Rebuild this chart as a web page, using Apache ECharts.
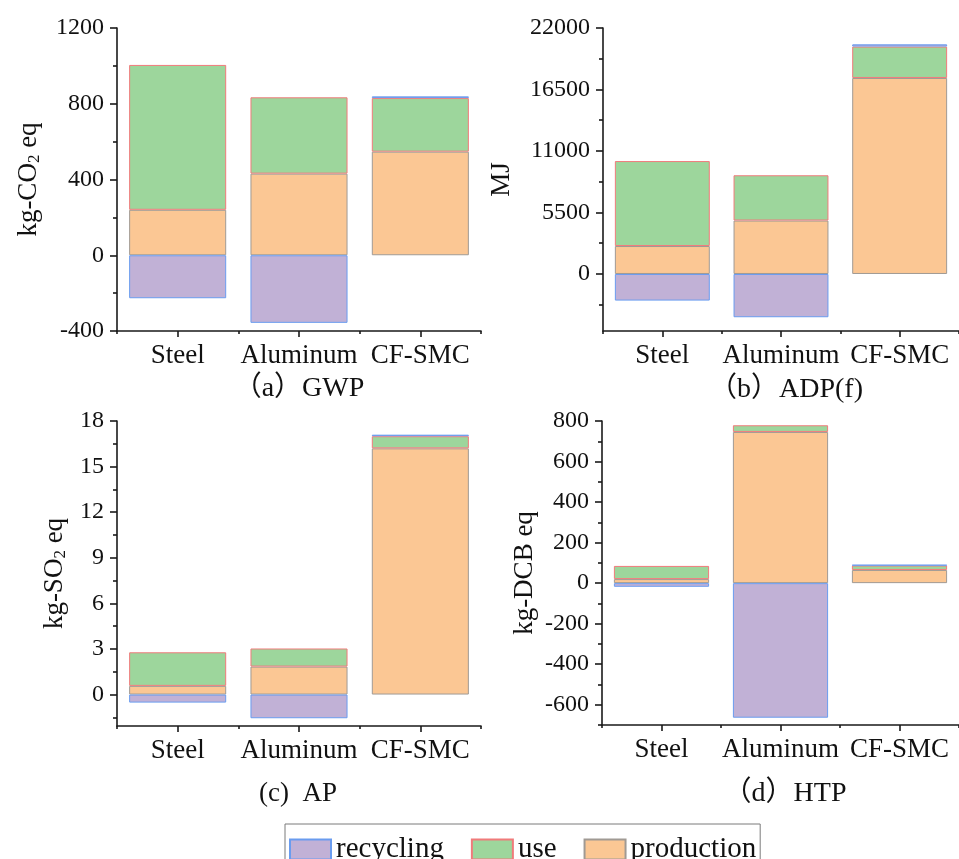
<!DOCTYPE html>
<html>
<head>
<meta charset="utf-8">
<script src="https://cdn.jsdelivr.net/npm/echarts@6/dist/echarts.min.js"></script>
<style>
html,body{margin:0;padding:0;background:#fff;}
#chart{width:959px;height:859px;}
</style>
</head>
<body>
<div id="chart"></div>
<script>
// ---- data ----
const categories = ['Steel', 'Aluminum', 'CF-SMC'];

const gwpProduction = [240, 431, 547];
const gwpUse = [765, 403, 283];
const gwpRecycling = [-227, -357, 9];

const adpProduction = [2500, 4780, 17530];
const adpUse = [7600, 4050, 2810];
const adpRecycling = [-2380, -3870, 200];

const apProduction = [0.57, 1.84, 16.2];
const apUse = [2.21, 1.19, 0.8];
const apRecycling = [-0.53, -1.56, 0.1];

const htpProduction = [20, 746, 65];
const htpUse = [65, 33, 22];
const htpRecycling = [-18, -664, 3];

const gwpTicks = [-400, 0, 400, 800, 1200];
const gwpMinor = [-200, 200, 600, 1000];
const adpTicks = [0, 5500, 11000, 16500, 22000];
const adpMinor = [-2750, 2750, 8250, 13750, 19250];
const apTicks = [0, 3, 6, 9, 12, 15, 18];
const apMinor = [-1.5, 1.5, 4.5, 7.5, 10.5, 13.5, 16.5];
const htpTicks = [-600, -400, -200, 0, 200, 400, 600, 800];
const htpMinor = [-700, -500, -300, -100, 100, 300, 500, 700];

const panelTitles = ['（a）GWP', '（b）ADP(f)', '(c)  AP', '（d）HTP'];
const seriesNames = ['recycling', 'use', 'production'];

// ---- styles ----
const FONT = "'Liberation Serif', 'Times New Roman', serif";
const TITLE_FONT = "'Liberation Serif', 'Noto Sans CJK SC', serif";
const styles = {
  production: { color: '#fbc794', borderColor: '#a09a94', borderWidth: 1 },
  use: { color: '#9dd69c', borderColor: '#f07b7b', borderWidth: 1 },
  recycling: { color: '#c1b1d6', borderColor: '#6a9cef', borderWidth: 1 }
};

const panels = [
  { grid: { left: 117, top: 28, width: 364, height: 303 }, min: -400, max: 1200, ticks: gwpTicks, minor: gwpMinor,
    name: 'kg-CO{sub|2} eq', nameGap: 74, data: [gwpProduction, gwpUse, gwpRecycling] },
  { grid: { left: 603, top: 28, width: 364, height: 303 }, min: -5100, max: 22000, ticks: adpTicks, minor: adpMinor,
    name: 'MJ', nameGap: 88, data: [adpProduction, adpUse, adpRecycling] },
  { grid: { left: 117, top: 421, width: 364, height: 305 }, min: -2.07, max: 18, ticks: apTicks, minor: apMinor,
    name: 'kg-SO{sub|2} eq', nameGap: 48, data: [apProduction, apUse, apRecycling] },
  { grid: { left: 602, top: 421, width: 364, height: 304 }, min: -700, max: 800, ticks: htpTicks, minor: htpMinor,
    name: 'kg-DCB eq', nameGap: 64, data: [htpProduction, htpUse, htpRecycling] }
];

const axisLineStyle = { color: '#1a1a1a', width: 1.6 };
const grids = [], xAxes = [], yAxes = [], series = [];

panels.forEach((p, i) => {
  grids.push(p.grid);
  xAxes.push({
    type: 'category', gridIndex: i, data: categories, position: 'bottom',
    axisLine: { show: true, lineStyle: axisLineStyle, onZero: false },
    axisTick: { show: true, alignWithLabel: true, inside: false, length: 6, lineStyle: axisLineStyle },
    axisLabel: { show: true, interval: 0, hideOverlap: false, fontFamily: FONT, fontSize: 27, color: '#111', margin: 11 },
    splitLine: { show: false }
  });
  xAxes.push({
    type: 'category', gridIndex: i, data: categories, position: 'bottom',
    axisLine: { show: false, onZero: false },
    axisTick: { show: true, alignWithLabel: false, interval: 0, length: 3, lineStyle: axisLineStyle },
    axisLabel: { show: false }, splitLine: { show: false }
  });
  yAxes.push({
    type: 'value', gridIndex: i, min: p.min, max: p.max, position: 'left',
    name: p.name, nameLocation: 'middle', nameGap: p.nameGap, nameRotate: 90,
    nameTextStyle: {
      fontFamily: FONT, fontSize: 27, color: '#111',
      rich: { sub: { fontFamily: FONT, fontSize: 17, color: '#111', verticalAlign: 'bottom', padding: [11, 0, 0, 0] } }
    },
    axisLine: { show: true, lineStyle: axisLineStyle, onZero: false },
    axisTick: { show: true, length: 7, lineStyle: axisLineStyle, customValues: p.ticks },
    axisLabel: { show: true, fontFamily: FONT, fontSize: 24, color: '#111', margin: 13, customValues: p.ticks,
      formatter: v => String(v) },
    splitLine: { show: false }
  });
  yAxes.push({
    type: 'value', gridIndex: i, min: p.min, max: p.max, position: 'left',
    axisLine: { show: false, onZero: false },
    axisTick: { show: true, length: 4, lineStyle: axisLineStyle, customValues: p.minor },
    axisLabel: { show: false }, splitLine: { show: false }
  });
  const order = ['production', 'use', 'recycling'];
  order.forEach((nm, k) => {
    series.push({
      type: 'bar', name: nm, stack: 'total' + i,
      xAxisIndex: 2 * i, yAxisIndex: 2 * i,
      data: p.data[k], barCategoryGap: '20%',
      itemStyle: styles[nm], emphasis: { disabled: true }
    });
  });
});

const titlePos = [[299, 389], [786, 390], [298, 794], [785, 794]];
const titleSize = [28, 28, 27, 28];
const graphics = panelTitles.map((t, i) => ({
  type: 'text', x: titlePos[i][0], y: titlePos[i][1],
  style: { text: t, font: titleSize[i] + 'px ' + TITLE_FONT, fill: '#111', textAlign: 'center', textVerticalAlign: 'middle' }
}));

const chart = echarts.init(document.getElementById('chart'), null, { renderer: 'canvas' });
chart.setOption({
  animation: false,
  backgroundColor: '#fff',
  grid: grids,
  xAxis: xAxes,
  yAxis: yAxes,
  series: series,
  graphic: graphics,
  legend: {
    data: seriesNames, left: 285, top: 824, orient: 'horizontal', icon: 'rect',
    itemWidth: 41, itemHeight: 20, itemGap: 27,
    borderColor: '#7a7a7a', borderWidth: 1, padding: [11, 4, 12, 4],
    textStyle: { fontFamily: FONT, fontSize: 29, color: '#111' },
    selectedMode: false
  }
});
</script>
</body>
</html>
